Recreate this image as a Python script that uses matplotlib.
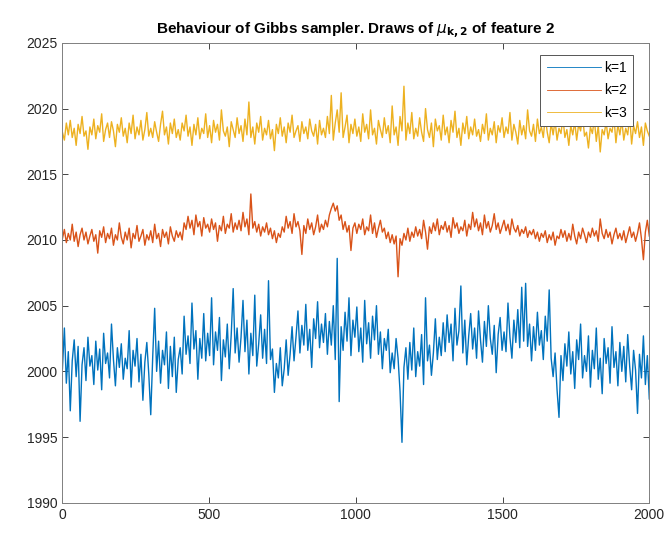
import numpy as np
import matplotlib.pyplot as plt

plt.rcParams['font.family'] = ['Liberation Sans', 'DejaVu Sans']

# draws of mu_{k,2} (one row = 100 iterations)
mu_k1 = [
    2000.2, 2003.3, 1999.1, 2001.5, 1997.0, 2000.8, 2002.4, 1999.6, 2001.9, 1996.2, 2000.5, 2001.8, 1999.3, 2002.6, 2000.4,
    2001.2, 1999.0, 2002.3, 2000.1, 2001.7, 1998.6, 2002.9, 2000.6, 2001.4, 1999.5, 2003.6, 2000.9, 1998.9, 2001.8, 2000.3,
    2002.1, 1999.4, 2001.0, 2000.2, 2003.1, 1998.8, 2001.6, 2000.4, 2002.5, 1999.2, 2001.3, 1997.8, 2000.7, 2002.2, 1999.8,
    1996.7, 2001.1, 2004.8, 2000.0, 2002.3, 1999.1, 2001.6, 2000.5, 2003.0, 1998.7, 2001.9, 1999.6, 2002.6, 1998.4, 2000.9,
    2001.8, 1999.8, 2004.2, 2001.3, 2002.7, 2000.6, 2005.2, 2001.7, 2003.1, 1999.4, 2002.5, 2001.0, 2004.4, 2000.8, 2002.9,
    2001.2, 2005.6, 2000.5, 2003.0, 2001.6, 2004.1, 1999.3, 2002.4, 2001.1, 2003.6, 2000.2, 2002.8, 2006.3, 2001.4, 2003.3,
    2000.7, 2002.6, 2005.4, 2001.5, 2003.9, 1999.8, 2002.9, 2001.2, 2005.8, 2000.4, 2002.1, 2004.3, 2001.0, 2003.2, 2000.6,
    2006.9, 2000.9, 2001.7, 1998.4, 2000.6, 1999.5, 2001.8, 1998.9, 2000.2, 2002.4, 1999.7, 2001.3, 2003.4, 2000.8, 2002.6,
    2004.6, 2001.4, 2003.5, 2002.0, 2005.1, 2001.6, 2003.2, 2000.3, 2004.0, 2002.5, 2005.3, 2001.8, 2003.6, 2002.2, 2004.4,
    2001.3, 2003.8, 2002.0, 2005.0, 2000.9, 2008.6, 1997.7, 2003.4, 2001.6, 2004.5, 2002.3, 2005.6, 2001.2, 2003.9, 2002.6,
    2004.9, 2001.5, 2003.3, 2000.7, 2005.4, 2002.1, 2003.7, 2001.0, 2004.2, 2002.4, 2005.0, 2001.3, 2003.0, 2000.2, 2002.5,
    2001.6, 2003.2, 1999.9, 2001.4, 2000.2, 2002.5, 2001.0, 1998.5, 1994.6, 2000.3, 2001.8, 1999.4, 2002.2, 2000.1, 2003.3,
    1999.6, 2001.5, 2000.4, 2002.8, 1999.0, 2005.6, 2000.8, 2002.0, 1999.7, 2001.4, 2004.0, 2000.9, 2002.6, 2001.2, 2003.7,
    2001.5, 2004.3, 2002.2, 2003.6, 2000.8, 2004.8, 2002.0, 2003.1, 2006.5, 2001.4, 2003.9, 2000.5, 2002.7, 2004.4, 2001.7,
    2003.3, 2001.0, 2004.6, 2002.4, 2000.7, 2003.8, 2001.9, 2005.0, 2002.5, 2001.3, 2003.5, 1999.9, 2002.8, 2004.1, 2001.6,
    2003.0, 2001.5, 2005.2, 2002.6, 2001.0, 2003.9, 2002.2, 2004.7, 2001.8, 2006.4, 2002.3, 2006.7, 2001.9, 2003.6, 2000.8,
    2003.4, 2001.6, 2004.5, 2002.0, 2003.1, 2000.9, 2004.2, 2002.3, 2006.2, 2001.0, 1999.6, 2001.4, 1998.6, 1996.5, 2001.2,
    1999.3, 2002.1, 2000.4, 2003.0, 1999.8, 2001.5, 1998.7, 2002.4, 2000.9, 2003.6, 1999.5, 2001.2, 2000.0, 2002.7, 1998.8,
    2001.6, 2000.2, 2003.3, 1999.4, 2001.0, 1998.3, 2002.5, 2000.6, 2001.8, 1999.1, 2003.4, 2000.3, 2001.5, 1998.9, 2002.2,
    2000.0, 2001.9, 1999.2, 2002.8, 2000.4, 1998.6, 2001.6, 2000.1, 1996.8, 2001.3, 1999.5, 2002.7, 1999.0, 2001.2, 1997.9,
]
mu_k2 = [
    2010.1, 2010.8, 2009.8, 2010.5, 2010.0, 2011.2, 2009.9, 2010.6, 2009.5, 2010.4, 2010.9, 2010.0, 2010.6, 2009.7, 2010.3,
    2010.8, 2009.9, 2010.4, 2009.0, 2010.7, 2010.2, 2011.0, 2009.8, 2010.5, 2010.1, 2010.9, 2009.6, 2010.4, 2010.0, 2011.3,
    2010.2, 2009.7, 2010.6, 2010.0, 2010.9, 2009.4, 2010.5, 2010.1, 2011.1, 2009.9, 2010.3, 2010.8, 2009.6, 2010.4, 2010.0,
    2010.7, 2009.8, 2011.2, 2010.1, 2010.5, 2009.5, 2010.8, 2010.2, 2010.6, 2009.7, 2011.0, 2010.3, 2009.9, 2010.7, 2010.2,
    2010.6, 2010.0, 2011.3, 2010.8, 2011.8, 2010.9, 2011.5, 2010.4, 2011.9, 2011.0, 2011.4, 2010.3, 2011.7, 2010.9, 2011.2,
    2010.6, 2011.6, 2010.8, 2011.3, 2009.9, 2011.1, 2010.7, 2011.8, 2010.5, 2011.2, 2010.9, 2012.0, 2010.6, 2011.3, 2010.8,
    2011.5, 2010.7, 2012.1, 2011.0, 2011.6, 2010.4, 2013.5, 2010.9, 2011.4, 2010.6, 2011.2, 2010.3, 2011.0, 2010.6, 2011.3,
    2010.4, 2010.9, 2010.1, 2010.7, 2009.8, 2010.5, 2010.2, 2011.0, 2010.6, 2011.8, 2010.9, 2011.4, 2010.5, 2012.0, 2011.0,
    2011.4, 2010.7, 2008.9, 2011.1, 2010.5, 2011.6, 2010.8, 2011.3, 2010.4, 2011.0, 2011.9, 2010.6, 2011.2, 2010.8, 2011.5,
    2011.0, 2011.9, 2012.4, 2012.8, 2012.2, 2012.6, 2011.5, 2011.9, 2010.8, 2011.4, 2010.6, 2011.1, 2009.2, 2010.9, 2011.3,
    2010.5, 2011.2, 2010.8, 2011.6, 2010.4, 2011.0, 2010.7, 2011.9, 2010.5, 2011.3, 2010.2, 2010.9, 2011.5, 2010.6, 2010.9,
    2010.1, 2010.6, 2009.8, 2010.4, 2009.7, 2010.3, 2007.2, 2010.1, 2009.6, 2010.5, 2010.0, 2010.9, 2009.9, 2010.6, 2010.2,
    2011.0, 2010.3, 2010.8, 2010.1, 2011.5, 2010.6, 2009.3, 2011.0, 2010.5, 2011.3, 2010.7, 2011.6, 2010.4, 2011.1, 2010.8,
    2011.4, 2010.6, 2011.1, 2010.2, 2011.7, 2010.9, 2011.3, 2010.5, 2011.0, 2010.7, 2011.5, 2010.3, 2011.2, 2010.8, 2012.1,
    2011.0, 2011.6, 2010.7, 2011.3, 2010.4, 2011.9, 2010.9, 2011.4, 2010.6, 2011.1, 2012.0, 2010.8, 2011.3, 2010.5, 2011.0,
    2011.5, 2010.7, 2011.2, 2010.4, 2011.6, 2010.9, 2010.6, 2011.1, 2010.3, 2010.8, 2010.5, 2011.0, 2010.2, 2010.7, 2010.4,
    2010.8, 2010.1, 2010.6, 2009.9, 2010.5, 2010.2, 2010.7, 2009.8, 2010.4, 2010.0, 2010.6, 2009.6, 2010.3, 2010.1, 2010.8,
    2010.2, 2010.7, 2009.9, 2010.5, 2010.0, 2011.2, 2010.3, 2009.7, 2010.6, 2010.1, 2010.9, 2010.4, 2009.8, 2010.6, 2010.2,
    2010.9, 2010.3, 2010.7, 2009.9, 2011.6, 2010.5, 2010.1, 2010.8, 2010.2, 2010.6, 2009.7, 2010.4, 2010.9, 2010.1, 2010.5,
    2010.0, 2010.7, 2009.8, 2010.4, 2011.0, 2010.2, 2010.6, 2009.9, 2010.5, 2011.3, 2010.1, 2008.5, 2010.6, 2011.5, 2010.3,
]
mu_k3 = [
    2018.2, 2017.6, 2018.9, 2018.0, 2019.1, 2017.8, 2018.5, 2017.2, 2018.8, 2018.1, 2019.4, 2017.9, 2018.3, 2016.9, 2018.6,
    2018.0, 2019.2, 2017.7, 2018.7, 2018.2, 2019.6, 2017.5, 2018.4, 2018.9, 2017.8, 2019.0, 2018.3, 2017.1, 2018.8, 2018.2,
    2019.3, 2017.9, 2018.5, 2017.4, 2018.9, 2018.1, 2019.5, 2017.7, 2018.6, 2018.0, 2019.1, 2017.6, 2018.4, 2019.7, 2017.9,
    2018.5, 2017.8, 2019.0, 2018.2, 2017.5, 2018.8, 2019.8, 2018.0, 2018.6, 2017.3, 2018.9, 2018.1, 2019.2, 2017.8, 2018.4,
    2017.6, 2018.9, 2018.3, 2019.5, 2017.9, 2018.6, 2017.2, 2018.8, 2018.0, 2019.3, 2017.7, 2018.5, 2018.1, 2019.6, 2017.8,
    2018.7, 2017.4, 2019.1, 2018.2, 2018.8, 2017.6, 2019.9, 2018.3, 2017.9, 2018.6, 2017.1, 2019.0, 2018.4, 2017.8, 2019.3,
    2018.1, 2018.7, 2017.5, 2019.2, 2018.0, 2020.5, 2017.8, 2018.6, 2017.3, 2018.9, 2018.2, 2019.4, 2017.6, 2018.5, 2018.0,
    2019.1, 2017.7, 2018.4, 2016.8, 2018.8, 2018.1, 2019.3, 2017.9, 2018.6, 2017.4, 2018.9, 2018.2, 2019.5, 2017.8, 2018.3,
    2018.7, 2017.5, 2019.0, 2018.1, 2018.6, 2017.7, 2019.2, 2018.3, 2017.9, 2018.8, 2017.3, 2019.1, 2018.0, 2018.5, 2017.8,
    2019.4, 2018.1, 2021.0, 2017.6, 2018.9, 2019.9, 2018.2, 2021.2, 2017.8, 2018.6, 2019.5, 2017.4, 2018.8, 2018.1, 2019.2,
    2017.9, 2018.6, 2017.5, 2019.6, 2018.2, 2018.8, 2017.7, 2019.9, 2018.0, 2018.5, 2017.3, 2019.1, 2018.4, 2017.8, 2019.3,
    2018.1, 2018.7, 2017.4, 2020.2, 2018.0, 2018.6, 2017.2, 2019.4, 2018.3, 2021.7, 2017.6, 2018.9, 2018.1, 2019.7, 2017.7,
    2018.5, 2017.9, 2019.3, 2018.2, 2017.5, 2020.0, 2018.4, 2017.8, 2018.9, 2017.1, 2019.2, 2018.3, 2018.7, 2017.6, 2019.5,
    2018.0, 2018.6, 2017.4, 2019.1, 2018.2, 2019.8, 2017.8, 2018.5, 2017.2, 2018.9, 2018.1, 2019.4, 2017.7, 2018.6, 2018.0,
    2019.2, 2017.9, 2018.4, 2017.5, 2018.8, 2018.1, 2019.6, 2017.6, 2018.5, 2018.0, 2019.0, 2017.4, 2018.7, 2018.2, 2019.3,
    2017.8, 2018.6, 2018.1, 2019.7, 2017.6, 2018.8, 2018.2, 2017.3, 2019.1, 2018.0, 2018.7, 2017.7, 2019.9, 2018.3, 2017.9,
    2018.8, 2017.5, 2019.2, 2018.1, 2018.6, 2017.8, 2019.4, 2018.2, 2017.4, 2018.9, 2018.0, 2019.1, 2017.6, 2018.5, 2018.1,
    2019.3, 2017.8, 2018.4, 2017.2, 2018.7, 2018.0, 2019.0, 2017.6, 2018.8, 2018.3, 2019.5, 2017.9, 2018.2, 2017.0, 2018.6,
    2018.1, 2019.2, 2017.5, 2018.7, 2016.7, 2018.4, 2018.0, 2019.0, 2017.7, 2018.5, 2018.2, 2019.3, 2017.4, 2018.8, 2018.0,
    2019.1, 2017.6, 2018.5, 2018.0, 2019.4, 2017.3, 2018.7, 2018.1, 2019.0, 2017.8, 2018.6, 2017.2, 2018.9, 2018.3, 2017.9,
]
labels = ['k=1', 'k=2', 'k=3']
colors = ['#0072BD', '#D95319', '#EDB120']

n_iter = 2000
it = np.linspace(1, n_iter, len(mu_k1))

fig = plt.figure(figsize=(6.68, 5.36), dpi=100)
ax = fig.add_axes([0.093, 0.062, 0.879, 0.858])

for y, lab, c in zip([mu_k1, mu_k2, mu_k3], labels, colors):
    ax.plot(it, y, color=c, lw=1.0, label=lab)

ax.set_xlim(0, n_iter)
ax.set_ylim(1990, 2025)
ax.set_xticks(np.arange(0, 2001, 500))
ax.set_yticks(np.arange(1990, 2026, 5))
ax.tick_params(direction='in', top=True, right=True, labelsize=10,
               colors='#262626', length=4, width=0.6)
for s in ax.spines.values():
    s.set_color('#808080')
    s.set_linewidth(0.7)

ax.set_title(r'Behaviour of Gibbs sampler. Draws of $\mu_{\mathbf{k,2}}$ of feature 2',
             fontsize=11, fontweight='bold', pad=6)

leg = ax.legend(loc='upper right', bbox_to_anchor=(0.973, 0.974), borderaxespad=0,
                fontsize=10, fancybox=False, framealpha=1, edgecolor='#555555',
                handlelength=3.9, labelspacing=0.6, handletextpad=0.25,
                borderpad=0.45)
leg.get_frame().set_linewidth(0.7)
for line in leg.get_lines():
    line.set_linewidth(0.6)

fig.savefig('out.png', dpi=100)
